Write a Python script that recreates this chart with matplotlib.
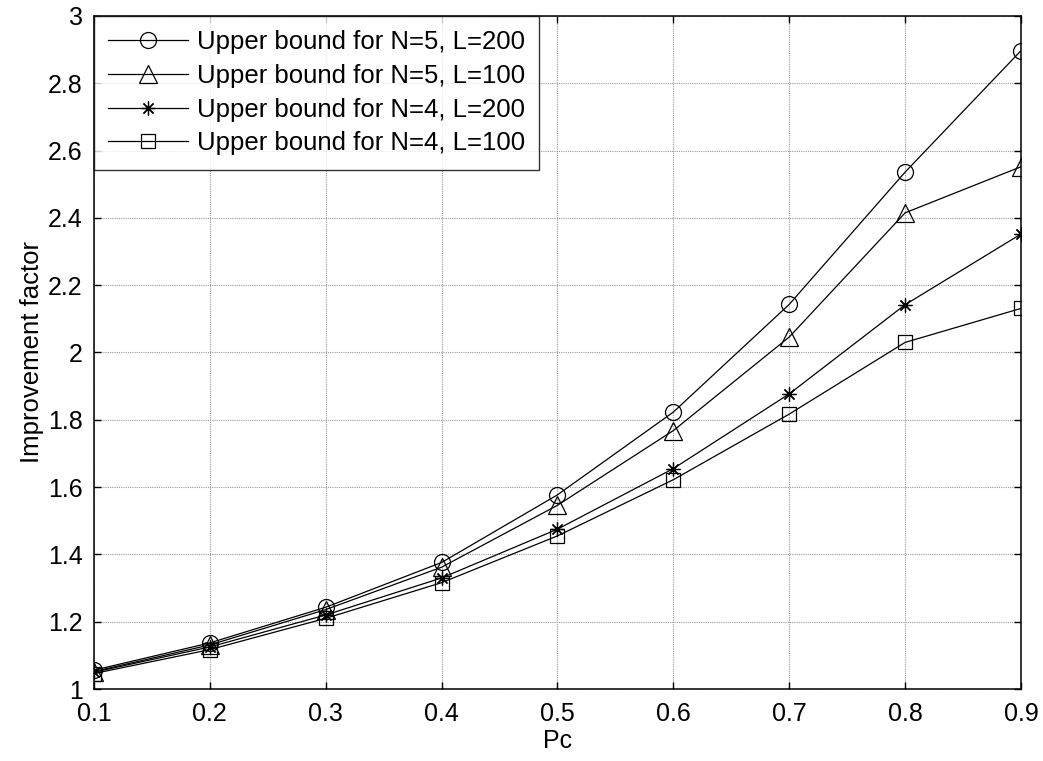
import matplotlib
matplotlib.use("Agg")
import matplotlib.pyplot as plt
from matplotlib.ticker import FormatStrFormatter

plt.rcParams["font.family"] = ["Liberation Sans", "DejaVu Sans"]

pc = [0.1, 0.2, 0.3, 0.4, 0.5, 0.6, 0.7, 0.8, 0.9]
n5_l200 = [1.056, 1.137, 1.243, 1.376, 1.577, 1.823, 2.143, 2.536, 2.897]
n5_l100 = [1.052, 1.131, 1.236, 1.362, 1.546, 1.768, 2.046, 2.415, 2.552]
n4_l200 = [1.050, 1.125, 1.220, 1.330, 1.475, 1.655, 1.877, 2.142, 2.352]
n4_l100 = [1.046, 1.117, 1.210, 1.316, 1.455, 1.622, 1.817, 2.030, 2.131]

labels = [
    "Upper bound for N=5, L=200",
    "Upper bound for N=5, L=100",
    "Upper bound for N=4, L=200",
    "Upper bound for N=4, L=100",
]
xticks = [0.1, 0.2, 0.3, 0.4, 0.5, 0.6, 0.7, 0.8, 0.9]
yticks = [1, 1.2, 1.4, 1.6, 1.8, 2, 2.2, 2.4, 2.6, 2.8, 3]

FS = 18

fig = plt.figure(figsize=(10.43, 7.61), dpi=100)
# axes box: 94..1021 px wide, 16..689 px tall
ax = fig.add_axes([0.0901, 0.0946, 0.8888, 0.8844])

series = [n5_l200, n5_l100, n4_l200, n4_l100]
markers = ["o", "^", (8, 2, 0), "s"]
sizes = [11.5, 12.5, 10, 10.5]
for ys, m, ms, lab in zip(series, markers, sizes, labels):
    ax.plot(pc, ys, color="black", linewidth=0.9, marker=m, markersize=ms,
            markerfacecolor="none", markeredgecolor="black",
            markeredgewidth=0.9, label=lab)

ax.set_xlim(0.1, 0.9)
ax.set_ylim(1, 3)
ax.set_xticks(xticks)
ax.set_yticks(yticks)
ax.yaxis.set_major_formatter(FormatStrFormatter("%g"))
ax.xaxis.set_major_formatter(FormatStrFormatter("%g"))
ax.tick_params(direction="in", length=5, width=1, top=True, right=True,
               labelsize=FS, colors="black")
ax.tick_params(axis="x", pad=9.5)
ax.tick_params(axis="y", pad=8)
for sp in ax.spines.values():
    sp.set_color("black")
    sp.set_linewidth(1.1)

ax.grid(True, color="0.6", linestyle=(0, (1, 1)), linewidth=0.8)
ax.set_axisbelow(True)

ax.set_xlabel("Pc", fontsize=FS, labelpad=2)
ax.set_ylabel("Improvement factor", fontsize=18.5, labelpad=3)

leg = ax.legend(loc="upper left", bbox_to_anchor=(0, 1), borderaxespad=0,
                fontsize=18.5, frameon=True, fancybox=False, handlelength=3.1,
                handletextpad=0.35, borderpad=0.55, labelspacing=0.38)
leg.get_frame().set_edgecolor("black")
leg.get_frame().set_linewidth(1.0)

fig.savefig("out.png", dpi=100, facecolor="white")
